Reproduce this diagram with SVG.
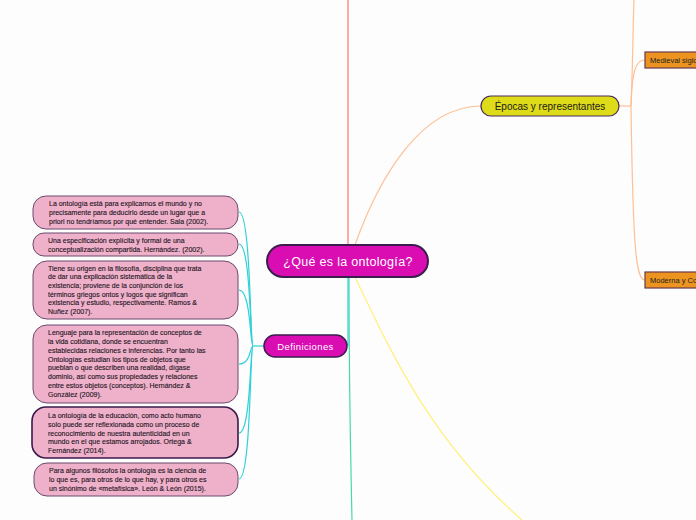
<svg xmlns="http://www.w3.org/2000/svg" width="696" height="520" viewBox="0 0 696 520">
<style>
.bg{fill:#fdfdfd}
.c{fill:none;stroke-width:1.2}
.cy{stroke:#2fd0d8}
.pk rect{fill:#efb1ca;stroke:#6b4a6e;stroke-width:1}
.pk text{font-family:"Liberation Sans",Arial,sans-serif;font-size:7px;fill:#1e1424;stroke:#1e1424;stroke-width:0.12}
.main rect{fill:#d90db2;stroke:#3a1e4c;stroke-width:2}
.wt{font-family:"Liberation Sans",Arial,sans-serif;fill:#ffffff;text-anchor:middle}
.or rect{fill:#ec941f;stroke:#6a3a4e;stroke-width:1.2}
.or text{font-family:"Liberation Sans",Arial,sans-serif;font-size:7.5px;fill:#222}
</style>
<rect class="bg" x="0" y="0" width="696" height="520"/>
<g id="connectors">
<path class="c" stroke="#ff7468" d="M348,0 L348,245"/>
<path class="c" stroke="#ffbf95" d="M355,245 C378,180 420,106 481,106"/>
<path class="c" stroke="#ffbf95" d="M619,106 L631,106"/>
<path class="c" stroke="#ffbf95" d="M631,106 C633,60 633,20 634,0"/>
<path class="c" stroke="#ffbf95" d="M631,106 C632,70 636,60 645,60"/>
<path class="c" stroke="#ffbf95" d="M631,106 C633,250 636,280 645,280"/>
<path class="c" stroke="#fff07a" d="M355,277 C390,350 430,440 522,520"/>
<path class="c" stroke="#44d9a6" d="M349,277 C349,400 351,470 352,520"/>
<path class="c cy" d="M348,277 L348,346"/>
<path class="c cy" d="M264,346 L253,346"/>
<path class="c cy" d="M253,346 C250,346 251,212 239,212"/>
<path class="c cy" d="M253,346 C250,346 251,244 239,244"/>
<path class="c cy" d="M253,346 C250,346 251,290 239,290"/>
<path class="c cy" d="M253,346 C250,346 251,364 239,364"/>
<path class="c cy" d="M253,346 C250,346 251,433 239,433"/>
<path class="c cy" d="M253,346 C250,346 251,479 239,479"/>
</g>
<g id="n-main" class="main">
<rect x="267" y="245" width="161" height="32" rx="16"/>
<text class="wt" x="348" y="265.5" font-size="12.5" letter-spacing="0.3">¿Qué es la ontología?</text>
</g>
<g id="n-def" class="main">
<rect x="264" y="335" width="83" height="22" rx="11" style="stroke-width:1.5"/>
<text class="wt" x="305.5" y="349.5" font-size="9.5" letter-spacing="0.4">Definiciones</text>
</g>
<g id="n-epocas">
<rect x="481" y="96" width="138" height="20" rx="10" fill="#dedb19" stroke="#4a2c5a" stroke-width="1.2"/>
<text x="550" y="109.5" font-family="'Liberation Sans',Arial,sans-serif" font-size="10" fill="#1a1a1a" text-anchor="middle">Épocas y representantes</text>
</g>
<g id="n-medieval" class="or">
<rect x="645" y="52" width="60" height="16"/>
<text x="650" y="63">Medieval siglos</text>
</g>
<g id="n-moderna" class="or">
<rect x="645" y="272" width="60" height="16"/>
<text x="650" y="283">Moderna y Contemporánea</text>
</g>
<g id="n-d1" class="pk">
<rect x="33" y="196" width="205" height="33" rx="13"/>
<text x="49" y="206">La ontología está para explicarnos el mundo y no</text>
<text x="49" y="215">precisamente para deducirlo desde un lugar que a</text>
<text x="49" y="224">priori no tendríamos por qué entender. Sala (2002).</text>
</g>
<g id="n-d2" class="pk">
<rect x="33" y="233" width="205" height="23" rx="11"/>
<text x="48" y="242.5">Una especificación explícita y formal de una</text>
<text x="48" y="251.5">conceptualización compartida. Hernández. (2002).</text>
</g>
<g id="n-d3" class="pk">
<rect x="33" y="261" width="205" height="58" rx="14"/>
<text x="48" y="270.5">Tiene su origen en la filosofía, disciplina que trata</text>
<text x="48" y="279.2">de dar una explicación sistemática de la</text>
<text x="48" y="287.9">existencia; proviene de la conjunción de los</text>
<text x="48" y="296.6">términos griegos ontos y logos que significan</text>
<text x="48" y="305.3">existencia y estudio, respectivamente. Ramos &amp;</text>
<text x="48" y="314">Nuñez (2007).</text>
</g>
<g id="n-d4" class="pk">
<rect x="33" y="325" width="205" height="78" rx="14"/>
<text x="48" y="335">Lenguaje para la representación de conceptos de</text>
<text x="48" y="343.9">la vida cotidiana, donde se encuentran</text>
<text x="48" y="352.7">establecidas relaciones e inferencias. Por tanto las</text>
<text x="48" y="361.6">Ontologías estudian los tipos de objetos que</text>
<text x="48" y="370.4">pueblan o que describen una realidad, dígase</text>
<text x="48" y="379.3">dominio, así como sus propiedades y relaciones</text>
<text x="48" y="388.1">entre estos objetos (conceptos). Hernández &amp;</text>
<text x="48" y="397">González (2009).</text>
</g>
<g id="n-d5" class="pk">
<rect x="32" y="407" width="206" height="51" rx="14" style="stroke:#3a1a4c;stroke-width:1.6"/>
<text x="48" y="418">La ontología de la educación, como acto humano</text>
<text x="48" y="426.8">solo puede ser reflexionada como un proceso de</text>
<text x="48" y="435.5">reconocimiento de nuestra autenticidad en un</text>
<text x="48" y="444.3">mundo en el que estamos arrojados. Ortega &amp;</text>
<text x="48" y="453">Fernández (2014).</text>
</g>
<g id="n-d6" class="pk">
<rect x="34" y="463" width="204" height="33" rx="13"/>
<text x="49" y="473">Para algunos filósofos la ontología es la ciencia de</text>
<text x="49" y="482">lo que es, para otros de lo que hay, y para otros es</text>
<text x="49" y="491">un sinónimo de «metafísica». León &amp; León (2015).</text>
</g>
</svg>
